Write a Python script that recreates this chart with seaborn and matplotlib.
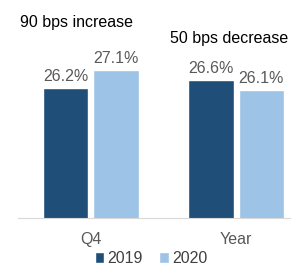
import pandas as pd
import seaborn as sns
import matplotlib.pyplot as plt

# chart values
periods = ["Q4", "Q4", "Year", "Year"]
years = ["2019", "2020", "2019", "2020"]
margins = [26.2, 27.1, 26.6, 26.1]
notes = ["90 bps increase", "50 bps decrease"]
colors = {"2019": "#1F4E79", "2020": "#9DC3E6"}

data = pd.DataFrame({"Period": periods, "Year": years, "Margin": margins})

sns.set_style("white")
plt.rcParams["font.family"] = ["Liberation Sans", "DejaVu Sans"]

fig = plt.figure(figsize=(2.96, 2.75), dpi=100)
ax = fig.add_axes([18 / 296, 1 - 218 / 275, 272 / 296, 218 / 275])

sns.barplot(data=data, x="Period", y="Margin", hue="Year", palette=colors,
            width=0.69, gap=0.1, saturation=1, ax=ax)

for cont in ax.containers:
    ax.bar_label(cont, fmt="%.1f%%", padding=3, color="#595959", fontsize=11.5)

ax.set_ylim(19.7, 30.6)
ax.set_xlim(-0.503, 1.372)
ax.set_xlabel("")
ax.set_ylabel("")
ax.set_yticks([])
ax.tick_params(axis="x", length=0, colors="#595959", labelsize=11.5, pad=10)
for side in ["top", "left", "right"]:
    ax.spines[side].set_visible(False)
ax.spines["bottom"].set_color("#D9D9D9")

ax.text(-0.10, 29.45, notes[0], ha="center", va="center", fontsize=11.5, color="black")
ax.text(0.95, 28.65, notes[1], ha="center", va="center", fontsize=11.5, color="black")

ax.legend(loc="lower center", bbox_to_anchor=(0.51, -0.02), bbox_transform=fig.transFigure,
          ncol=2, frameon=False, fontsize=11.5, handlelength=0.6, handleheight=0.6,
          handletextpad=0.2, columnspacing=1.0, labelcolor="#404040")

fig.savefig("out.png", dpi=100)
